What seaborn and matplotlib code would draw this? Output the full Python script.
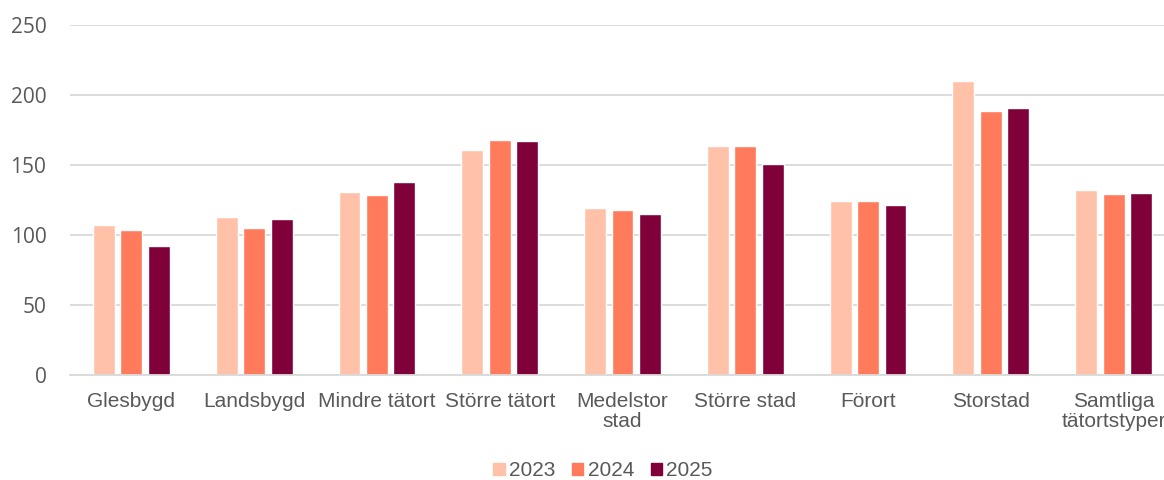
import pandas as pd
import seaborn as sns
import matplotlib
matplotlib.use("Agg")
import matplotlib.pyplot as plt
from matplotlib.patches import Patch

# Data
categories = ["Glesbygd", "Landsbygd", "Mindre tätort", "Större tätort", "Medelstor\nstad",
              "Större stad", "Förort", "Storstad", "Samtliga\ntätortstyper"]
years = ["2023", "2024", "2025"]
v2023 = [107, 113, 131, 161, 119, 163.5, 124, 210, 132]
v2024 = [103.5, 105, 128.5, 167.5, 118, 163.5, 124.5, 188.5, 129]
v2025 = [92.5, 111.5, 138, 167, 115, 150.5, 121.5, 190.5, 130]
colors = ["#FFC2A8", "#FF7B5C", "#80003A"]

df = pd.DataFrame({
    "kategori": categories * 3,
    "år": [y for y in years for _ in categories],
    "värde": v2023 + v2024 + v2025,
})

sns.set_theme(style="white")
plt.rcParams["font.family"] = ["Liberation Sans", "DejaVu Sans"]

fig = plt.figure(figsize=(11.64, 4.8), dpi=100)
ax = fig.add_axes([70 / 1164, 105 / 480, 1105 / 1164, 350 / 480])

sns.barplot(data=df, x="kategori", y="värde", hue="år", palette=colors,
            width=0.67, gap=0.2, ax=ax, legend=False, saturation=1)

ax.set_ylim(0, 250)
ax.set_yticks(range(0, 251, 50))
ax.set_xlim(-0.5, len(categories) - 0.5)
ax.yaxis.grid(True, color="#D9D9D9", linewidth=1.3)
ax.set_axisbelow(True)
for s in ["top", "right", "left"]:
    ax.spines[s].set_visible(False)
ax.spines["bottom"].set_color("#D9D9D9")
ax.spines["bottom"].set_linewidth(1.3)
ax.set_xlabel("")
ax.set_ylabel("")
ax.tick_params(axis="both", length=0, colors="#595959")
ax.tick_params(axis="x", labelsize=15, pad=12)
for lab in ax.get_xticklabels():
    lab.set_linespacing(1.1)
for lab in ax.get_yticklabels():
    lab.set_fontfamily(["Open Sans", "DejaVu Sans"])
    lab.set_fontsize(15)
ax.tick_params(axis="y", pad=17)

handles = [Patch(color=c, label=y) for c, y in zip(colors, years)]
fig.legend(handles=handles, loc="center", bbox_to_anchor=(603 / 1164, 1 - 471 / 480),
           ncol=3, frameon=False, fontsize=15, handlelength=0.55, handleheight=0.55,
           handletextpad=0.2, columnspacing=0.8, labelcolor="#595959")

fig.savefig("out.png", dpi=100)
